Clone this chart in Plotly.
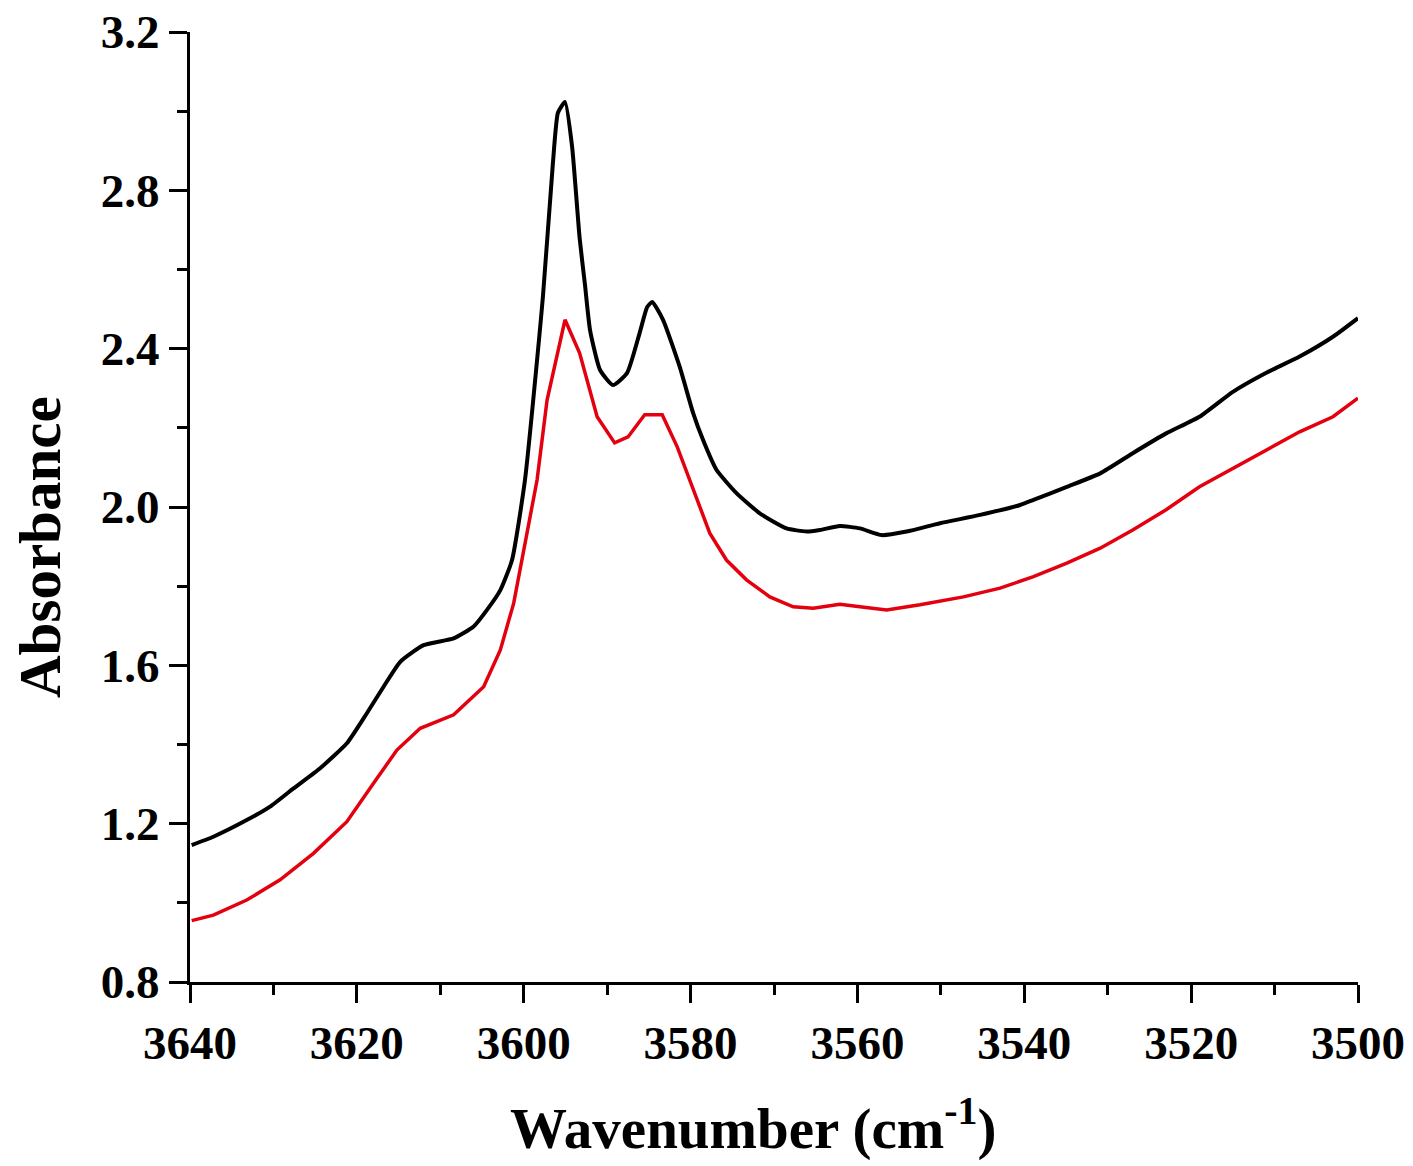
import plotly.graph_objects as go

# Black spectrum
wn_black = [3639.8, 3637.2, 3633.2, 3630.4, 3627.6, 3624.4, 3621.2, 3618.8, 3616.8, 3614.8,
            3612.0, 3608.4, 3606.0, 3604.4, 3602.8, 3601.4, 3599.85, 3597.7, 3596.5, 3595.9,
            3595.05, 3594.2, 3593.3, 3592.65, 3592.05, 3590.85, 3589.3, 3587.6, 3586.1, 3585.2,
            3584.6, 3583.3, 3581.3, 3579.7, 3578.5, 3576.9, 3574.5, 3571.7, 3568.5, 3566.1,
            3564.5, 3562.1, 3559.7, 3557.1, 3554.1, 3550.1, 3545.3, 3540.5, 3538.9, 3534.9,
            3530.9, 3527.0, 3523.0, 3519.0, 3515.0, 3511.1, 3507.0, 3503.0, 3500.0]
abs_black = [1.146, 1.167, 1.209, 1.243, 1.289, 1.340, 1.403, 1.479, 1.546, 1.609,
             1.651, 1.668, 1.698, 1.740, 1.790, 1.866, 2.068, 2.531, 2.869, 2.996,
             3.023, 2.910, 2.680, 2.560, 2.447, 2.346, 2.308, 2.339, 2.440, 2.505,
             2.518, 2.473, 2.354, 2.238, 2.169, 2.094, 2.035, 1.984, 1.946, 1.938,
             1.942, 1.952, 1.946, 1.929, 1.938, 1.959, 1.980, 2.005, 2.018, 2.051,
             2.085, 2.136, 2.186, 2.228, 2.291, 2.338, 2.380, 2.430, 2.477]

# Red spectrum
wn_red = [3639.8, 3637.2, 3633.2, 3629.2, 3625.2, 3621.2, 3618.0, 3615.2, 3612.4, 3608.4,
          3604.8, 3602.8, 3601.2, 3599.8, 3598.4, 3597.2, 3595.05, 3593.3, 3591.2, 3589.1,
          3587.5, 3585.5, 3583.4, 3581.6, 3580.1, 3577.7, 3575.7, 3573.3, 3570.5, 3567.7,
          3565.3, 3562.1, 3559.7, 3556.5, 3552.5, 3547.3, 3542.9, 3538.9, 3534.9, 3530.9,
          3527.0, 3523.0, 3519.0, 3515.0, 3511.1, 3507.0, 3503.0, 3500.0]
abs_red = [0.955, 0.969, 1.007, 1.058, 1.125, 1.205, 1.302, 1.386, 1.441, 1.475,
           1.546, 1.639, 1.757, 1.917, 2.068, 2.270, 2.473, 2.389, 2.228, 2.162,
           2.177, 2.233, 2.233, 2.152, 2.068, 1.934, 1.866, 1.816, 1.773, 1.748,
           1.744, 1.754, 1.748, 1.740, 1.753, 1.773, 1.795, 1.824, 1.858, 1.896,
           1.942, 1.993, 2.051, 2.098, 2.144, 2.190, 2.228, 2.275]

x_ticks = [3640, 3620, 3600, 3580, 3560, 3540, 3520, 3500]
y_ticks = [0.8, 1.2, 1.6, 2.0, 2.4, 2.8, 3.2]

x_title = "Wavenumber (cm<sup>-1</sup>)"
y_title = "Absorbance"

FONT = "Liberation Serif, Times New Roman, serif"

fig = go.Figure()
fig.add_trace(go.Scatter(x=wn_black, y=abs_black, mode="lines",
                         line=dict(color="#000000", width=4, shape="spline", smoothing=0.5),
                         showlegend=False))
fig.add_trace(go.Scatter(x=wn_red, y=abs_red, mode="lines",
                         line=dict(color="#e3000f", width=3.5), showlegend=False))

# page body has an 8px margin, so the figure is laid out 8px in from the window edge
fig.update_layout(
    width=1405, height=1158,
    margin=dict(l=182, r=55, t=24, b=184),
    paper_bgcolor="white", plot_bgcolor="white",
    font=dict(family=FONT, color="black"),
)
fig.update_xaxes(
    range=[3640, 3500], tickvals=x_ticks, ticktext=[str(v) for v in x_ticks],
    automargin=False, ticklabeloverflow="allow",
    showgrid=False, zeroline=False, showline=True, linecolor="black", linewidth=3,
    ticks="outside", ticklen=18, tickwidth=3, tickcolor="black",
    tickfont=dict(family=FONT, size=47, weight="bold", color="black"),
    minor=dict(dtick=10, ticks="outside", ticklen=10, tickwidth=3, tickcolor="black", showgrid=False),
)
fig.update_yaxes(
    range=[0.8, 3.2], tickvals=y_ticks, ticktext=[f"{v:.1f}" for v in y_ticks],
    automargin=False, ticklabeloverflow="allow",
    showgrid=False, zeroline=False, showline=True, linecolor="black", linewidth=3,
    ticks="outside", ticklen=18, tickwidth=3, tickcolor="black",
    tickfont=dict(family=FONT, size=47, weight="bold", color="black"),
    minor=dict(dtick=0.2, tick0=0.8, ticks="outside", ticklen=10, tickwidth=3, tickcolor="black", showgrid=False),
)

fig.add_annotation(text=x_title, xref="paper", yref="paper",
                   x=(753 - 190) / 1168, y=-(1116 - 974) / 950,
                   xanchor="center", yanchor="middle", showarrow=False,
                   font=dict(family=FONT, size=57, weight="bold", color="black"))
fig.add_annotation(text=y_title, xref="paper", yref="paper",
                   x=(40 - 190) / 1168, y=(982 - 547) / 950,
                   xanchor="center", yanchor="middle", textangle=-90, showarrow=False,
                   font=dict(family=FONT, size=59, weight="bold", color="black"))

fig.write_html("out.html")
